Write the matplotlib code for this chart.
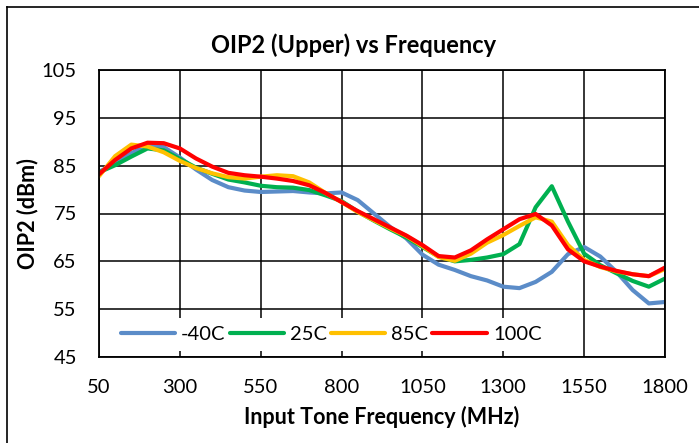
import matplotlib
matplotlib.use("Agg")
import matplotlib.pyplot as plt
from matplotlib.lines import Line2D

plt.rcParams['font.family'] = ['Lato', 'DejaVu Sans']

freq = list(range(50, 1801, 50))

t_m40 = [83.7, 85.5, 87.6, 89.3, 88.9, 86.7, 84.2, 82.0, 80.5, 79.8,
         79.5, 79.6, 79.7, 79.4, 79.2, 79.4, 77.8, 75.0, 72.2, 69.8,
         66.4, 64.3, 63.2, 61.9, 61.0, 59.7, 59.4, 60.7, 62.8, 66.5,
         68.0, 66.0, 62.8, 59.0, 56.2, 56.5]
t_25 = [83.6, 85.1, 86.9, 88.6, 88.2, 86.4, 84.6, 83.3, 82.1, 81.5,
        80.8, 80.5, 80.4, 79.9, 78.8, 77.6, 75.4, 73.5, 71.7, 70.0,
        68.0, 66.0, 65.0, 65.3, 65.8, 66.5, 68.6, 76.3, 80.7, 73.3,
        66.6, 64.2, 62.5, 60.9, 59.7, 61.4]
t_85 = [82.8, 87.0, 89.4, 89.0, 87.8, 86.0, 84.5, 83.4, 82.6, 82.3,
        82.7, 83.0, 82.8, 81.5, 79.3, 77.4, 75.3, 73.6, 71.9, 70.3,
        68.2, 65.9, 65.1, 66.6, 68.9, 70.5, 72.4, 74.2, 73.3, 68.4,
        65.3, 63.8, 62.9, 62.3, 61.9, 63.4]
t_100 = [83.2, 86.2, 88.6, 89.8, 89.7, 88.6, 86.5, 84.8, 83.5, 83.0,
         82.7, 82.3, 81.8, 80.9, 79.3, 77.4, 75.5, 73.8, 72.1, 70.4,
         68.4, 66.1, 65.8, 67.3, 69.6, 71.7, 73.8, 74.9, 72.5, 67.5,
         65.0, 63.9, 63.0, 62.3, 61.9, 63.7]

labels = ['-40C', '25C', '85C', '100C']
colors = ['#5B8CC8', '#00B050', '#FFC000', '#FF0000']
x_ticks = [50, 300, 550, 800, 1050, 1300, 1550, 1800]
y_ticks = [45, 55, 65, 75, 85, 95, 105]

fig = plt.figure(figsize=(6.99, 4.43), dpi=100)
ax = fig.add_axes([99/699, 1 - 357/443, 566/699, 287/443])

for series, lab, col in zip([t_m40, t_25, t_85, t_100], labels, colors):
    ax.plot(freq, series, color=col, lw=3, label=lab,
            solid_joinstyle='round', solid_capstyle='round')

ax.set_xlim(50, 1800)
ax.set_ylim(45, 105)
ax.set_xticks(x_ticks)
ax.set_yticks(y_ticks)
ax.grid(True, color='black', lw=1.1)
ax.set_axisbelow(True)
for s in ax.spines.values():
    s.set_color('black')
    s.set_linewidth(1.3)
ax.tick_params(length=0, labelsize=14.5, pad=16)

fig.text(354/699, 1 - 45/443, 'OIP2 (Upper) vs Frequency', fontsize=17,
         fontweight='bold', ha='center', va='center')
ax.set_xlabel('Input Tone Frequency (MHz)', fontsize=15.5, fontweight='bold', labelpad=7)
ax.set_ylabel('OIP2 (dBm)', fontsize=15.5, fontweight='bold')
ax.yaxis.set_label_coords(-0.108, 0.5)

leg = ax.legend(loc='lower center', bbox_to_anchor=(0.41, 0.0), ncol=4,
                frameon=True, fontsize=14.5, handlelength=2.7, columnspacing=0.2,
                handletextpad=0.3, borderaxespad=0.3)
leg.get_frame().set_facecolor('white')
leg.get_frame().set_edgecolor('none')
leg.get_frame().set_alpha(1)
for h in leg.get_lines():
    h.set_linewidth(3)

# outer chart border (left and top visible in the crop)
fig.add_artist(Line2D([7/699, 7/699], [0, 1 - 7/443], color='black', lw=1.2))
fig.add_artist(Line2D([7/699, 1], [1 - 7/443, 1 - 7/443], color='black', lw=1.2))

fig.savefig('out.png', dpi=100)
